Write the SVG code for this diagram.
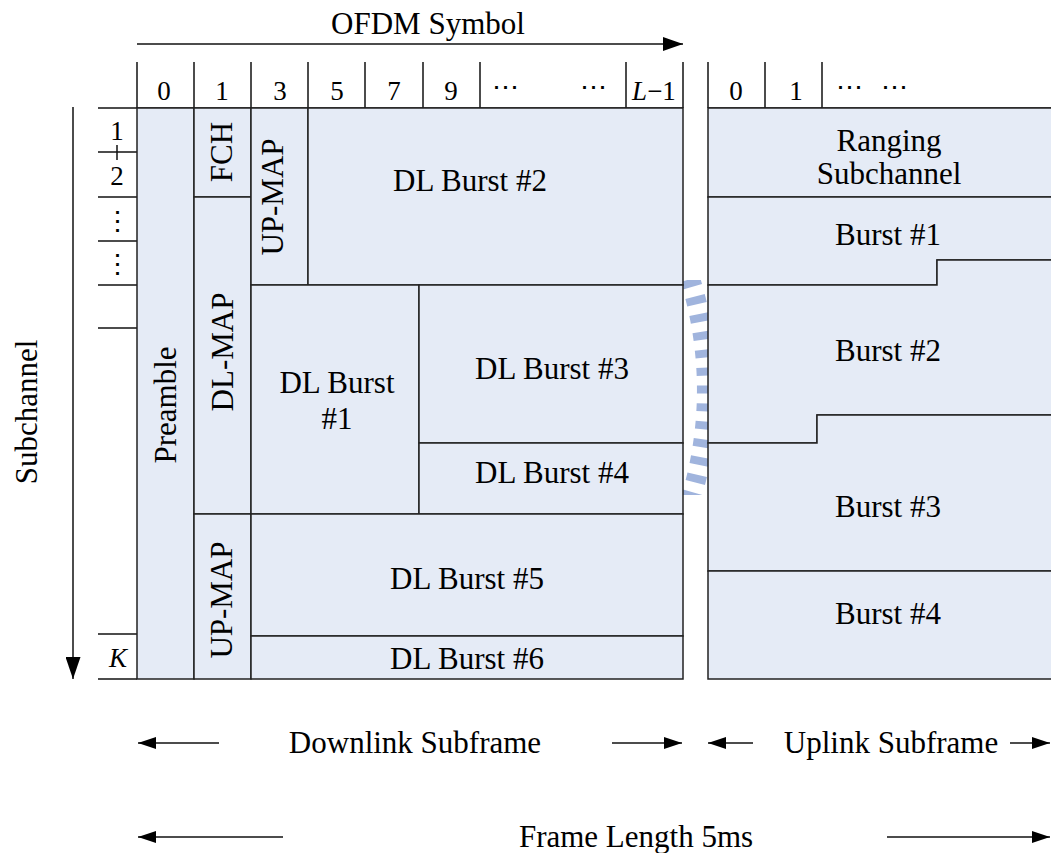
<svg xmlns="http://www.w3.org/2000/svg" width="1051" height="853" viewBox="0 0 1051 853">
<style>
.cell{fill:#E5EBF6;stroke:#222;stroke-width:1.5}
.ln{stroke:#111;stroke-width:1.5;fill:none}
.t{font-family:"Liberation Serif","DejaVu Serif",serif;font-size:31px;fill:#000;text-anchor:middle}
.d{font-family:"Liberation Serif","DejaVu Serif",serif;font-size:27px;fill:#000;text-anchor:middle}
.wm{fill:none;stroke:#A0B4DD;stroke-width:20;stroke-dasharray:8 10}
</style>
<defs>
<marker id="ahBig" markerUnits="userSpaceOnUse" markerWidth="22" markerHeight="14" refX="20" refY="7" orient="auto"><path d="M0,0 L20,7 L0,14 Z" fill="#000"/></marker>
<marker id="ahSub" markerUnits="userSpaceOnUse" markerWidth="24" markerHeight="15" refX="22" refY="7.5" orient="auto"><path d="M0,0 L22,7.5 L0,15 Z" fill="#000"/></marker>
<marker id="ahSm" markerUnits="userSpaceOnUse" markerWidth="19" markerHeight="12" refX="18" refY="6" orient="auto"><path d="M0,0 L18,6 L0,12 Z" fill="#000"/></marker>
<clipPath id="gap"><rect x="683" y="280" width="25" height="215"/></clipPath>
</defs>
<rect width="1051" height="853" fill="#fff"/>

<!-- watermark fragment -->
<g id="watermark" clip-path="url(#gap)">
<path class="wm" d="M684.4,262.1 A374,374 0 0 1 684.4,517.9"/>
</g>

<!-- axes and header -->
<g id="ofdm-axis">
<line class="ln" x1="137" y1="44" x2="683" y2="44" marker-end="url(#ahBig)"/>
<text class="t" x="428" y="34">OFDM Symbol</text>
</g>
<g id="subchannel-axis">
<line class="ln" x1="73" y1="107" x2="73" y2="679" marker-end="url(#ahSub)"/>
<text class="t" font-size="33" transform="rotate(-90 37 412)" x="37" y="412">Subchannel</text>
</g>

<g id="dl-header">
<line class="ln" x1="98" y1="108" x2="683" y2="108"/>
<g class="ln">
<line x1="137" y1="62" x2="137" y2="108"/>
<line x1="194" y1="62" x2="194" y2="108"/>
<line x1="251" y1="62" x2="251" y2="108"/>
<line x1="308" y1="62" x2="308" y2="108"/>
<line x1="365" y1="62" x2="365" y2="108"/>
<line x1="423" y1="62" x2="423" y2="108"/>
<line x1="480" y1="62" x2="480" y2="108"/>
<line x1="626" y1="62" x2="626" y2="108"/>
<line x1="683" y1="62" x2="683" y2="108"/>
</g>
<text class="d" x="164" y="100">0</text>
<text class="d" x="222" y="100">1</text>
<text class="d" x="280" y="100">3</text>
<text class="d" x="337" y="100">5</text>
<text class="d" x="394" y="100">7</text>
<text class="d" x="451" y="100">9</text>
<text class="d" x="505" y="96" font-size="22">⋯</text>
<text class="d" x="593" y="96" font-size="22">⋯</text>
<text class="d" x="654" y="100"><tspan font-style="italic">L</tspan>−1</text>
</g>

<g id="row-labels">
<g class="ln">
<line x1="98" y1="152" x2="137" y2="152"/>
<line x1="117" y1="145" x2="117" y2="160"/>
<line x1="98" y1="197" x2="137" y2="197"/>
<line x1="98" y1="241" x2="137" y2="241"/>
<line x1="98" y1="285" x2="137" y2="285"/>
<line x1="98" y1="328" x2="137" y2="328"/>
<line x1="98" y1="634" x2="137" y2="634"/>
<line x1="98" y1="679" x2="137" y2="679"/>
</g>
<text class="d" x="117" y="140">1</text>
<text class="d" x="117" y="185">2</text>
<text class="d" x="117" y="230" font-size="22">⋮</text>
<text class="d" x="117" y="273" font-size="22">⋮</text>
<text class="d" x="118" y="667" font-style="italic" font-size="29">K</text>
</g>

<!-- downlink subframe cells -->
<g id="preamble"><rect class="cell" x="137" y="108" width="57" height="571"/>
<text class="t" transform="rotate(-90 176 405)" x="176" y="405">Preamble</text></g>
<g id="fch"><rect class="cell" x="194" y="108" width="57" height="89"/>
<text class="t" transform="rotate(-90 232 152)" x="232" y="152">FCH</text></g>
<g id="dl-map"><rect class="cell" x="194" y="197" width="57" height="317"/>
<text class="t" transform="rotate(-90 233 352)" x="233" y="352">DL-MAP</text></g>
<g id="up-map-2"><rect class="cell" x="194" y="514" width="57" height="165"/>
<text class="t" transform="rotate(-90 232 600)" x="232" y="600">UP-MAP</text></g>
<g id="up-map-1"><rect class="cell" x="251" y="108" width="57" height="177"/>
<text class="t" transform="rotate(-90 283 197)" x="283" y="197">UP-MAP</text></g>
<g id="dl-burst-2"><rect class="cell" x="308" y="108" width="375" height="177"/>
<text class="t" x="470" y="191">DL Burst #2</text></g>
<g id="dl-burst-1"><rect class="cell" x="251" y="285" width="168" height="229"/>
<text class="t" x="337" y="393">DL Burst</text>
<text class="t" x="337" y="429">#1</text></g>
<g id="dl-burst-3"><rect class="cell" x="419" y="285" width="264" height="158"/>
<text class="t" x="552" y="379">DL Burst #3</text></g>
<g id="dl-burst-4"><rect class="cell" x="419" y="443" width="264" height="71"/>
<text class="t" x="552" y="483">DL Burst #4</text></g>
<g id="dl-burst-5"><rect class="cell" x="251" y="514" width="432" height="122"/>
<text class="t" x="467" y="589">DL Burst #5</text></g>
<g id="dl-burst-6"><rect class="cell" x="251" y="636" width="432" height="43"/>
<text class="t" x="467" y="669">DL Burst #6</text></g>

<!-- uplink subframe -->
<g id="ul-header">
<line class="ln" x1="708" y1="108" x2="1051" y2="108"/>
<g class="ln">
<line x1="708" y1="62" x2="708" y2="108"/>
<line x1="765" y1="62" x2="765" y2="108"/>
<line x1="822" y1="62" x2="822" y2="108"/>
</g>
<text class="d" x="736" y="100">0</text>
<text class="d" x="796" y="100">1</text>
<text class="d" x="849" y="96" font-size="22">⋯</text>
<text class="d" x="894" y="96" font-size="22">⋯</text>
</g>
<g id="ranging"><rect class="cell" x="708" y="108" width="360" height="89"/>
<text class="t" x="889" y="151">Ranging</text>
<text class="t" x="889" y="184">Subchannel</text></g>
<g id="ul-burst-1"><path class="cell" d="M708,197 H1068 V260 H937 V285 H708 Z"/>
<text class="t" x="888" y="245">Burst #1</text></g>
<g id="ul-burst-2"><path class="cell" d="M708,285 H937 V260 H1068 V415 H817 V443 H708 Z"/>
<text class="t" x="888" y="361">Burst #2</text></g>
<g id="ul-burst-3"><path class="cell" d="M708,443 H817 V415 H1068 V571 H708 Z"/>
<text class="t" x="888" y="517">Burst #3</text></g>
<g id="ul-burst-4"><rect class="cell" x="708" y="571" width="360" height="108"/>
<text class="t" x="888" y="624">Burst #4</text></g>

<!-- subframe and frame length annotations -->
<g id="connectors">
<line class="ln" x1="219" y1="743" x2="138" y2="743" marker-end="url(#ahSm)"/>
<line class="ln" x1="612" y1="743" x2="682" y2="743" marker-end="url(#ahSm)"/>
<line class="ln" x1="753" y1="743" x2="708" y2="743" marker-end="url(#ahSm)"/>
<line class="ln" x1="1010" y1="743" x2="1050" y2="743" marker-end="url(#ahSm)"/>
<line class="ln" x1="283" y1="837" x2="138" y2="837" marker-end="url(#ahSm)"/>
<line class="ln" x1="887" y1="837" x2="1050" y2="837" marker-end="url(#ahSm)"/>
</g>
<g id="labels">
<text class="t" x="415" y="753">Downlink Subframe</text>
<text class="t" x="891" y="753">Uplink Subframe</text>
<text class="t" x="636" y="847">Frame Length 5ms</text>
</g>
</svg>
